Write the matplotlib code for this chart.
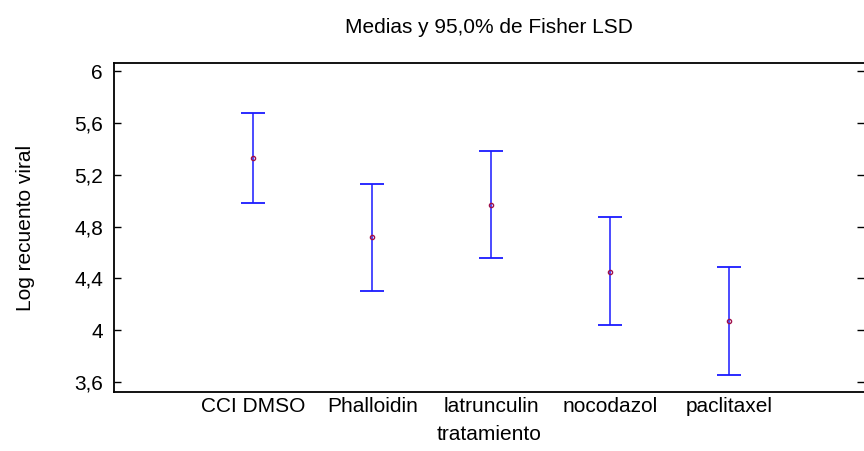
import numpy as np
import matplotlib.pyplot as plt

plt.rcParams['font.family'] = ['Liberation Sans', 'DejaVu Sans']

# datos
tratamientos = ['CCI DMSO', 'Phalloidin', 'latrunculin', 'nocodazol', 'paclitaxel']
medias = [5.33, 4.72, 4.97, 4.45, 4.07]
lim_sup = [5.68, 5.13, 5.38, 4.87, 4.49]
lim_inf = [4.98, 4.30, 4.56, 4.04, 3.65]

yticks = [3.6, 4.0, 4.4, 4.8, 5.2, 5.6, 6.0]
yticklabels = ['3,6', '4', '4,4', '4,8', '5,2', '5,6', '6']

fig = plt.figure(figsize=(8.64, 4.51), dpi=100)
ax = fig.add_axes([0.132, 0.131, 0.868, 0.729])

x = np.arange(len(tratamientos))
medias = np.array(medias)
err = [medias - np.array(lim_inf), np.array(lim_sup) - medias]

ax.errorbar(x, medias, yerr=err, fmt='none', ecolor='#1a1aff', elinewidth=1.1,
            capsize=8.6, capthick=1.3)
ax.plot(x, medias, 'o', ms=3.0, mfc='none', mec='#a0104a', mew=1.0)

ax.set_xlim(-1.17, 5.13)
ax.set_ylim(3.523, 6.062)
ax.set_xticks(x)
ax.set_xticklabels(tratamientos, fontsize=15)
ax.set_yticks(yticks)
ax.set_yticklabels(yticklabels, fontsize=15)

ax.tick_params(axis='x', length=0, pad=4)
ax.tick_params(axis='y', direction='in', length=5, width=1, right=True, pad=8)

for s in ['left', 'top', 'bottom']:
    ax.spines[s].set_linewidth(1.3)
ax.spines['right'].set_visible(False)

ax.set_xlabel('tratamiento', fontsize=15, labelpad=6)
ax.set_ylabel('Log recuento viral', fontsize=15, labelpad=28)
ax.set_title('Medias y 95,0% de Fisher LSD', fontsize=15, pad=22)

fig.savefig('out.png', dpi=100)
